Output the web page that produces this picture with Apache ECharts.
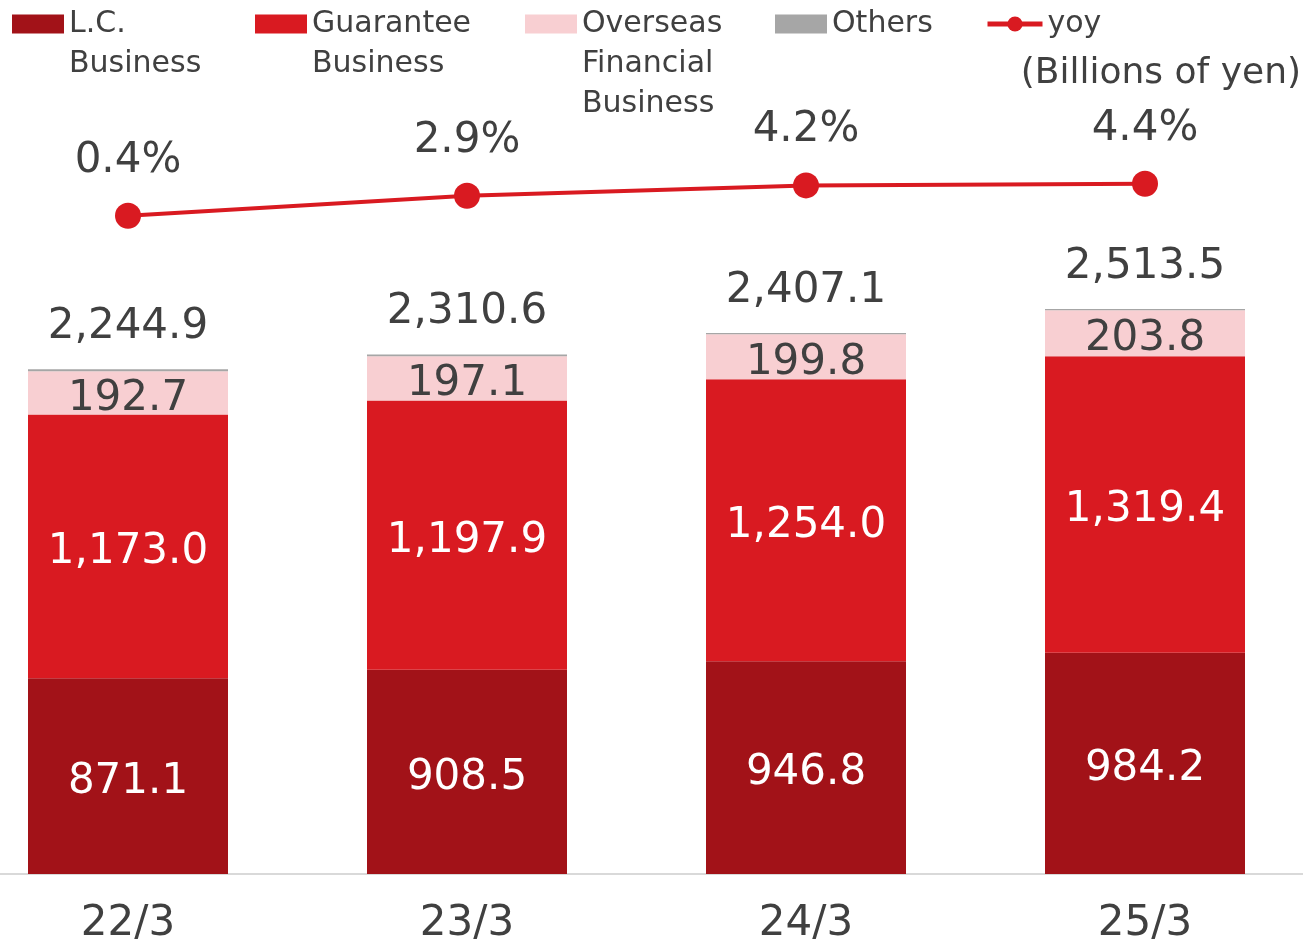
<!DOCTYPE html>
<html><head><meta charset="utf-8">
<script src="https://cdn.jsdelivr.net/npm/echarts@6/dist/echarts.min.js"></script>
<style>html,body{margin:0;padding:0;background:#fff}#c{width:1303px;height:943px}</style>
</head><body><div id="c"></div>
<script>
const categories = ['22/3', '23/3', '24/3', '25/3'];
const lcBusiness = [871.1, 908.5, 946.8, 984.2];
const guaranteeBusiness = [1173.0, 1197.9, 1254.0, 1319.4];
const overseasBusiness = [192.7, 197.1, 199.8, 203.8];
const othersBusiness = [8.1, 7.1, 6.5, 6.1];
const yoyPct = [0.4, 2.9, 4.2, 4.4];

const FONT = 'DejaVu Sans';
const TXT = '#404040';
const fmt = v => Number(v).toLocaleString('en-US', {minimumFractionDigits: 1, maximumFractionDigits: 1});
const totals = categories.map((_, i) => lcBusiness[i] + guaranteeBusiness[i] + overseasBusiness[i] + othersBusiness[i]);

function legendFor(name, left, top, lines, isLine) {
  const item = {name: name};
  if (isLine) {
    item.lineStyle = {width: 5, color: '#D91A21'};
    item.itemStyle = {color: '#D91A21'};
  } else {
    item.icon = 'rect';
  }
  return {
    left: left, top: top, padding: 0, orient: 'horizontal',
    itemWidth: isLine ? 55 : 52, itemHeight: 19, selectedMode: false,
    data: [item],
    formatter: n => '\n'.repeat(lines - 1) + n,
    textStyle: {fontFamily: FONT, fontSize: 30, color: TXT, lineHeight: 40}
  };
}

const chart = echarts.init(document.getElementById('c'));
chart.setOption({
  animation: false,
  backgroundColor: '#fff',
  title: {
    text: '(Billions of yen)', right: 2, top: 56, padding: 0,
    textStyle: {fontFamily: FONT, fontSize: 36, fontWeight: 'normal', color: TXT}
  },
  legend: [
    legendFor('L.C.\nBusiness', 12, -36, 2),
    legendFor('Guarantee\nBusiness', 255, -36, 2),
    legendFor('Overseas\nFinancial\nBusiness', 525, -76, 3),
    legendFor('Others', 775, 4, 1),
    legendFor('yoy', 985, 4, 1, true)
  ],
  grid: {left: -41.5, right: -11.5, top: 0, bottom: 69, containLabel: false, outerBoundsMode: 'none'},
  xAxis: {
    type: 'category', data: categories,
    axisLine: {show: true, lineStyle: {color: '#D9D9D9', width: 2}},
    axisTick: {show: false},
    axisLabel: {fontFamily: FONT, fontSize: 42, color: TXT, margin: 29}
  },
  yAxis: [
    {type: 'value', min: 0, max: 3888, show: false, splitLine: {show: false}},
    {type: 'value', min: -81.875, max: 27.375, show: false, splitLine: {show: false}}
  ],
  series: [
    {
      name: 'L.C.\nBusiness', type: 'bar', stack: 's', barWidth: 200, data: lcBusiness,
      itemStyle: {color: '#A21218'},
      label: {show: true, position: 'inside', offset: [0, 6], fontFamily: FONT, fontSize: 42, color: '#fff', formatter: p => fmt(p.value)}
    },
    {
      name: 'Guarantee\nBusiness', type: 'bar', stack: 's', barWidth: 200, data: guaranteeBusiness,
      itemStyle: {color: '#D91A21'},
      label: {show: true, position: 'inside', offset: [0, 6], fontFamily: FONT, fontSize: 42, color: '#fff', formatter: p => fmt(p.value)}
    },
    {
      name: 'Overseas\nFinancial\nBusiness', type: 'bar', stack: 's', barWidth: 200, data: overseasBusiness,
      itemStyle: {color: '#F8CFD2'},
      label: {show: true, position: 'inside', offset: [0, 6], fontFamily: FONT, fontSize: 42, color: TXT, formatter: p => fmt(p.value)}
    },
    {
      name: 'Others', type: 'bar', stack: 's', barWidth: 200, data: othersBusiness,
      itemStyle: {color: '#A6A6A6'},
      label: {show: true, position: 'top', distance: 21, fontFamily: FONT, fontSize: 42, color: TXT, formatter: p => fmt(totals[p.dataIndex])}
    },
    {
      name: 'yoy', type: 'line', yAxisIndex: 1, data: yoyPct,
      symbol: 'circle', symbolSize: 26,
      lineStyle: {color: '#D91A21', width: 4},
      itemStyle: {color: '#D91A21'},
      label: {show: true, position: 'top', distance: 21, fontFamily: FONT, fontSize: 42, color: TXT, formatter: p => p.value.toFixed(1) + '%'}
    }
  ]
});
</script>
</body></html>
